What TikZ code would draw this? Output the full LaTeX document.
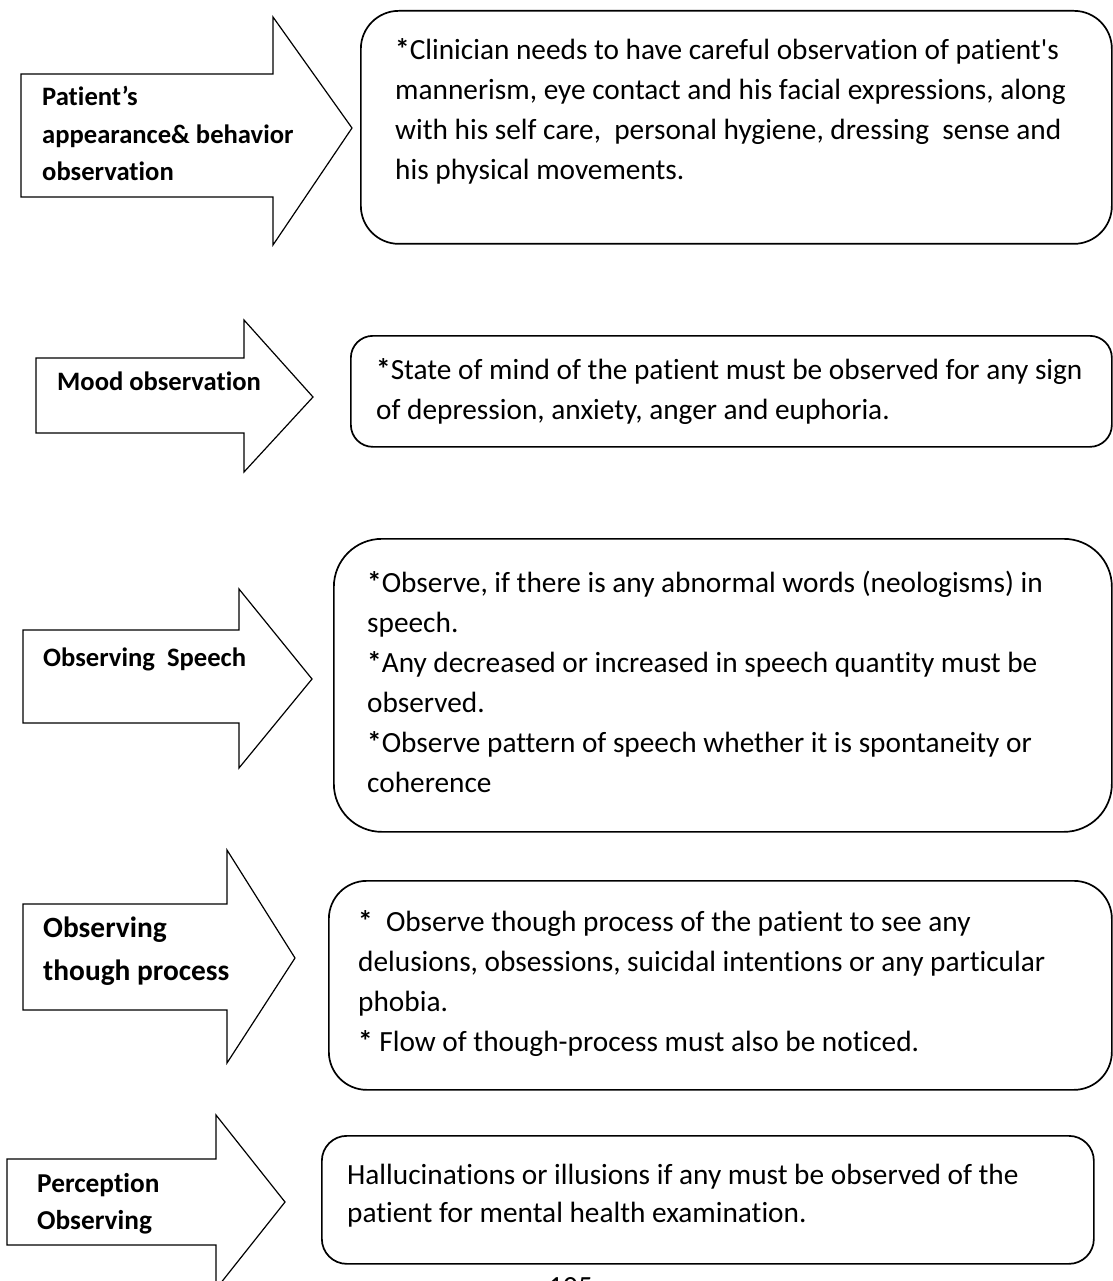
\documentclass[tikz,border=0pt]{standalone}
\usepackage{fontspec}
\setmainfont{Carlito}[Ligatures=NoCommon]
\begin{document}
% Multi-line nodes are placed by the baseline of their last line (anchor=base west).
\begin{tikzpicture}[x=1pt,y=-1pt,
  arrowshape/.style={draw=black, line width=1.2pt, line join=miter, fill=white},
  panel/.style={draw=black, line width=1.7pt, rectangle, rounded corners=#1, inner sep=0pt},
  lbl/.style={font=\fontsize{26.6}{37.5}\selectfont\bfseries, anchor=base west, inner sep=0pt, align=left},
  body/.style={font=\fontsize{29.3}{40}\selectfont, anchor=base west, inner sep=0pt, align=left}]
\useasboundingbox (0,0) rectangle (1112,1281);

% ---- row 1: appearance and behaviour
\draw[arrowshape] (21,74) -- (273,74) -- (273,17) -- (352,128) -- (273,245) -- (273,197) -- (21,197) -- cycle;
\node[lbl] (lbl1) at (42,181) {Patient’s\\appearance\& behavior\\observation};
\node[panel=38pt, minimum width=751pt, minimum height=233pt, anchor=north west] (box1) at (360,10) {};
\node[body] (txt1) at (395,180) {\textbf{*}Clinician needs to have careful observation of patient\textquotesingle s\\
mannerism, eye contact and his facial expressions, along\\
with his self care,\ \ personal hygiene, dressing\ \ sense and\\
his physical movements.};

% ---- row 2: mood
\draw[arrowshape] (36,358) -- (244,358) -- (244,320) -- (313,397) -- (244,472) -- (244,433) -- (36,433) -- cycle;
\node[lbl] (lbl2) at (57,390) {Mood observation};
\node[panel=22pt, minimum width=761pt, minimum height=111pt, anchor=north west] (box2) at (350,335) {};
\node[body] (txt2) at (376,419) {\textbf{*}State of mind of the patient must be observed for any sign\\
of depression, anxiety, anger and euphoria.};

% ---- row 3: speech
\draw[arrowshape] (23,630) -- (239,630) -- (239,589) -- (312,679) -- (239,768) -- (239,723) -- (23,723) -- cycle;
\node[lbl] (lbl3) at (43,666) {Observing\ \ Speech};
\node[panel=48pt, minimum width=778pt, minimum height=293pt, anchor=north west] (box3) at (333,538) {};
\node[body] (txt3) at (367,792) {\textbf{*}Observe, if there is any abnormal words (neologisms) in\\
speech.\\
\textbf{*}Any decreased or increased in speech quantity must be\\
observed.\\
\textbf{*}Observe pattern of speech whether it is spontaneity or\\
coherence};

% ---- row 4: thought process
\draw[arrowshape] (23,904) -- (227,904) -- (227,850) -- (295,958) -- (227,1063) -- (227,1010) -- (23,1010) -- cycle;
\node[lbl, font=\fontsize{29.4}{43}\selectfont\bfseries] (lbl4) at (43,980) {Observing\\though process};
\node[panel=38pt, minimum width=783pt, minimum height=209pt, anchor=north west] (box4) at (328,880) {};
\node[body] (txt4) at (358,1051) {\textbf{*}\ \ Observe though process of the patient to see any\\
delusions, obsessions, suicidal intentions or any particular\\
phobia.\\
\textbf{*} Flow of though-process must also be noticed.};

% ---- row 5: perception
\draw[arrowshape] (7,1159) -- (216,1159) -- (216,1115) -- (285,1202) -- (216,1289) -- (216,1245) -- (7,1245) -- cycle;
\node[lbl, font=\fontsize{27.3}{37}\selectfont\bfseries] (lbl5) at (37,1229) {Perception\\Observing};
\node[panel=25pt, minimum width=772pt, minimum height=128pt, anchor=north west] (box5) at (321,1135) {};
\node[body, font=\fontsize{29.3}{38}\selectfont] (txt5) at (347,1222) {Hallucinations or illusions if any must be observed of the\\
patient for mental health examination.};

% ---- page number at the foot
\node[body] (pageno) at (548,1296) {105};
\end{tikzpicture}
\end{document}
